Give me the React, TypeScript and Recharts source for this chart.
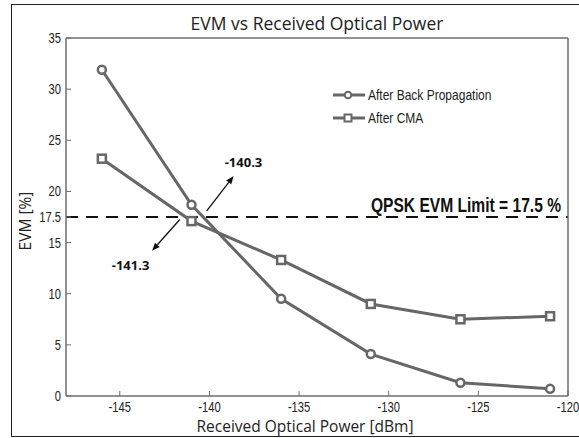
import React from 'react';
import { LineChart, Line, XAxis, YAxis, ReferenceLine, ReferenceDot, Legend } from 'recharts';

const power = [-146, -141, -136, -131, -126, -121];
const evmBackProp = [31.9, 18.7, 9.5, 4.1, 1.3, 0.7];
const evmCMA = [23.2, 17.1, 13.3, 9.0, 7.5, 7.8];

const xTicks = [-145, -140, -135, -130, -125, -120];
const yTicks = [0, 5, 10, 15, 17.5, 20, 25, 30, 35];
const frameYTicks = [0, 5, 10, 15, 20, 25, 30, 35];

const nameBP = 'After Back Propagation';
const nameCMA = 'After CMA';
const title = 'EVM vs Received Optical Power';
const xLabel = 'Received Optical Power [dBm]';
const yLabel = 'EVM [%]';

const evmLimit = 17.5;
const limitLabel = 'QPSK EVM Limit = 17.5 %';

const annoUpText = '-140.3';
const annoUpPos = { x: -138.1, y: 22.9 };
const arrowUp = [{ x: -140.15, y: 18.1 }, { x: -138.65, y: 21.5 }];
const annoDownText = '-141.3';
const annoDownPos = { x: -144.4, y: 12.8 };
const arrowDown = [{ x: -141.65, y: 17.25 }, { x: -143.2, y: 14.2 }];

const data = power.map((p, i) => ({ p, bp: evmBackProp[i], cma: evmCMA[i] }));

const LINE = '#676767';
const FRAME = '#6e6e6e';
const ARIAL = '"Liberation Sans", Arial, sans-serif';
const OPEN = '"Open Sans", "Noto Sans", sans-serif';
const NARROW_SCALE = 0.8;

const SquareDot = (props: any) => {
  const { cx, cy, index } = props;
  if (cx == null || cy == null) return null;
  return (
    <rect key={`sq-${index}`} x={cx - 4} y={cy - 4} width={8} height={8} fill="#fff" stroke={LINE} strokeWidth={2.5} />
  );
};

const ArrowShape = (props: any) => {
  const { x1, y1, x2, y2 } = props;
  if ([x1, y1, x2, y2].some((v) => v == null || isNaN(v))) return null;
  const ang = Math.atan2(y2 - y1, x2 - x1);
  const len = 8;
  const hw = 3.2;
  const bx = x2 - len * Math.cos(ang);
  const by = y2 - len * Math.sin(ang);
  const px = -Math.sin(ang) * hw;
  const py = Math.cos(ang) * hw;
  return (
    <g>
      <line x1={x1} y1={y1} x2={bx} y2={by} stroke="#111" strokeWidth={1.3} />
      <polygon points={`${x2},${y2} ${bx + px},${by + py} ${bx - px},${by - py}`} fill="#111" />
    </g>
  );
};

const makeTextShape = (txt: string) => (props: any) => {
  const { cx, cy } = props;
  return (
    <text x={cx} y={cy} textAnchor="middle" dominantBaseline="central" fontFamily={OPEN} fontWeight={700} fontSize={13} fill="#111">
      {txt}
    </text>
  );
};

const XTick = (props: any) => {
  const { x, y, payload } = props;
  return (
    <g transform={`translate(${x},${y})`}>
      <text transform={`scale(${NARROW_SCALE},1)`} x={0} y={0} dy="0.71em" textAnchor="middle" fontFamily={ARIAL} fontSize={14} fill="#222">
        {payload.value}
      </text>
    </g>
  );
};

const YTick = (props: any) => {
  const { x, y, payload } = props;
  return (
    <g transform={`translate(${x},${y})`}>
      <text transform={`scale(${NARROW_SCALE},1)`} x={0} y={0} dy="0.355em" textAnchor="end" fontFamily={ARIAL} fontSize={14} fill="#222">
        {payload.value}
      </text>
    </g>
  );
};

const TitleLabel = (props: any) => {
  const vb = props.viewBox || {};
  return (
    <text x={vb.x + vb.width / 2} y={29.5} textAnchor="middle" fontFamily={OPEN} fontSize={17.5} fill="#222">
      {title}
    </text>
  );
};

const XLabel = (props: any) => {
  const vb = props.viewBox || {};
  return (
    <text x={vb.x + vb.width / 2 - 12} y={vb.y + 36} textAnchor="middle" fontFamily={OPEN} fontSize={15.5} fill="#222">
      {xLabel}
    </text>
  );
};

const YLabel = (props: any) => {
  const vb = props.viewBox || {};
  const cx = vb.x + 25;
  const cy = vb.y + vb.height / 2 + 4;
  return (
    <text x={cx} y={cy} transform={`rotate(-90 ${cx} ${cy})`} textAnchor="middle" dominantBaseline="central" fontFamily={OPEN} fontSize={15.5} fill="#222">
      {yLabel}
    </text>
  );
};

const LimitLabel = (props: any) => {
  const vb = props.viewBox || {};
  const tx = vb.x + vb.width - 7;
  const ty = vb.y - 5.5;
  return (
    <g transform={`translate(${tx},${ty})`}>
      <text transform={`scale(${NARROW_SCALE},1)`} x={0} y={0} textAnchor="end" fontFamily={ARIAL} fontWeight={700} fontSize={19.5} fill="#111">
        {limitLabel}
      </text>
    </g>
  );
};

const renderLegend = (props: any) => {
  const { payload = [] } = props;
  return (
    <div style={{ fontFamily: ARIAL, fontSize: 15, color: '#222' }}>
      {payload.map((e: any) => (
        <div key={e.value} style={{ display: 'flex', alignItems: 'center', height: 23, whiteSpace: 'nowrap' }}>
          <svg width={34} height={12} style={{ display: 'block', flex: 'none' }}>
            <line x1={0} y1={6} x2={32} y2={6} stroke={LINE} strokeWidth={3} />
            {e.value === nameBP ? (
              <circle cx={15} cy={6} r={3.3} fill="#fff" stroke={LINE} strokeWidth={2} />
            ) : (
              <rect x={11.5} y={2.5} width={7} height={7} fill="#fff" stroke={LINE} strokeWidth={2} />
            )}
          </svg>
          <span style={{ marginLeft: 1, lineHeight: '23px', display: 'inline-block', transform: `scaleX(${NARROW_SCALE})`, transformOrigin: 'left center' }}>{e.value}</span>
        </div>
      ))}
    </div>
  );
};

export default function App() {
  return (
    <div style={{ position: 'absolute', left: 0, top: 0, width: 579, height: 438, background: '#fff', overflow: 'hidden' }}>
      <div style={{ position: 'absolute', left: 11, top: 4, width: 580, height: 431, borderLeft: '1.5px solid #222', borderTop: '1.5px solid #222', borderBottom: '1.5px solid #222' }} />
      <LineChart width={579} height={438} data={data} margin={{ top: 37, right: 10, bottom: 0, left: 0 }}>
        <XAxis
          dataKey="p"
          type="number"
          domain={[-148, -120]}
          ticks={xTicks}
          allowDataOverflow
          height={42}
          stroke={FRAME}
          axisLine={{ stroke: FRAME, strokeWidth: 1.5 }}
          tickLine={{ stroke: FRAME, strokeWidth: 1 }}
          tickSize={-5}
          tickMargin={11}
          interval={0}
          tick={<XTick />}
          label={<XLabel />}
        />
        <XAxis
          xAxisId="top"
          orientation="top"
          dataKey="p"
          type="number"
          domain={[-148, -120]}
          ticks={xTicks}
          allowDataOverflow
          height={1}
          axisLine={{ stroke: FRAME, strokeWidth: 1.5 }}
          tickLine={{ stroke: FRAME, strokeWidth: 1 }}
          tickSize={-5}
          tick={false}
          label={<TitleLabel />}
        />
        <YAxis
          type="number"
          domain={[0, 35]}
          ticks={yTicks}
          allowDataOverflow
          width={66}
          axisLine={{ stroke: FRAME, strokeWidth: 1.5 }}
          tickLine={{ stroke: FRAME, strokeWidth: 1 }}
          tickSize={-5}
          tickMargin={10}
          interval={0}
          tick={<YTick />}
          label={<YLabel />}
        />
        <YAxis
          yAxisId="right"
          orientation="right"
          type="number"
          domain={[0, 35]}
          ticks={frameYTicks}
          allowDataOverflow
          width={1}
          axisLine={{ stroke: FRAME, strokeWidth: 1.5 }}
          tickLine={{ stroke: FRAME, strokeWidth: 1 }}
          tickSize={-5}
          tick={false}
        />
        <ReferenceLine y={evmLimit} stroke="#111" strokeWidth={2} strokeDasharray="12 8" label={<LimitLabel />} />
        <Line
          dataKey="bp"
          name={nameBP}
          stroke={LINE}
          strokeWidth={3}
          isAnimationActive={false}
          dot={{ r: 4, fill: '#fff', stroke: LINE, strokeWidth: 2.5 }}
          activeDot={false}
        />
        <Line
          dataKey="cma"
          name={nameCMA}
          stroke={LINE}
          strokeWidth={3}
          isAnimationActive={false}
          dot={<SquareDot />}
          activeDot={false}
        />
        <ReferenceLine segment={arrowUp} shape={<ArrowShape />} ifOverflow="visible" />
        <ReferenceLine segment={arrowDown} shape={<ArrowShape />} ifOverflow="visible" />
        <ReferenceDot x={annoUpPos.x} y={annoUpPos.y} r={0} shape={makeTextShape(annoUpText)} ifOverflow="visible" />
        <ReferenceDot x={annoDownPos.x} y={annoDownPos.y} r={0} shape={makeTextShape(annoDownText)} ifOverflow="visible" />
        <Legend
          layout="horizontal"
          verticalAlign="middle"
          align="center"
          content={renderLegend}
          wrapperStyle={{ position: 'absolute', left: 333, top: 83, width: 220, height: 46 }}
        />
      </LineChart>
    </div>
  );
}
